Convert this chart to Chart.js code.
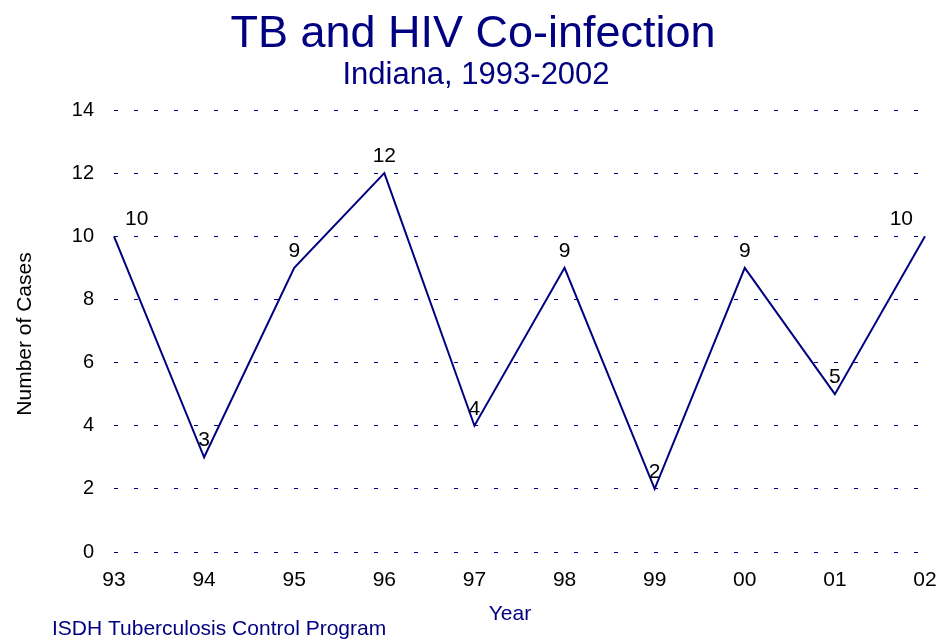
<!DOCTYPE html>
<html>
<head>
<meta charset="utf-8">
<script src="https://cdn.jsdelivr.net/npm/chart.js@4"></script>
<style>
  html,body{margin:0;padding:0;background:#fff;}
  #wrap{width:938px;height:639px;position:relative;}
</style>
</head>
<body>
<div id="wrap"><canvas id="coChart" width="938" height="639"></canvas></div>
<script>
const years = ['93','94','95','96','97','98','99','00','01','02'];
const cases = [10, 3, 9, 12, 4, 9, 2, 9, 5, 10];
const yMin = 0, yMax = 14, yStep = 2;

const titleText = 'TB and HIV Co-infection';
const subtitleText = 'Indiana, 1993-2002';
const xTitle = 'Year';
const yTitle = 'Number of Cases';
const footerText = 'ISDH Tuberculosis Control Program';

const NAVY = '#000080';
const FONT = '"Liberation Sans", Arial, sans-serif';

// titles, axis titles, footer and point values
const textPlugin = {
  id:'texts',
  afterDraw(chart){
    const c = chart.ctx;
    c.save();
    c.textBaseline = 'alphabetic';
    c.fillStyle = NAVY;
    c.textAlign = 'center';
    c.font = `45px ${FONT}`;
    c.fillText(titleText, 473, 47);
    c.font = `31px ${FONT}`;
    c.fillText(subtitleText, 476, 84);
    c.font = `21px ${FONT}`;
    c.fillText(xTitle, 510, 620);
    c.textAlign = 'left';
    c.fillText(footerText, 52, 635);

    c.fillStyle = '#000';
    c.save();
    c.translate(31, 334);
    c.rotate(-Math.PI/2);
    c.textAlign = 'center';
    c.fillText(yTitle, 0, 0);
    c.restore();

    const pts = chart.getDatasetMeta(0).data;
    c.font = `21px ${FONT}`;
    pts.forEach((p,i)=>{
      let x = p.x, align = 'center';
      if (i === 0) { x = p.x + 11; align = 'left'; }
      else if (i === pts.length-1) { x = p.x - 12; align = 'right'; }
      c.textAlign = align;
      c.fillText(String(cases[i]), x, p.y - 11);
    });
    c.restore();
  }
};

new Chart(document.getElementById('coChart'), {
  type:'line',
  data:{ labels: years, datasets:[{ data: cases, borderColor: NAVY, borderWidth:2, pointRadius:0, tension:0, fill:false }] },
  options:{
    responsive:false, animation:false,
    layout:{ padding:{ top:110, right:13, bottom:0, left:0 } },
    plugins:{ legend:{ display:false }, tooltip:{ enabled:false } },
    scales:{
      x:{
        offset:false,
        grid:{ display:false },
        border:{ display:false },
        ticks:{ color:'#000', font:{ family:FONT, size:21 }, padding:8, maxRotation:0, autoSkip:false },
        afterFit(s){ s.height = 87; s.paddingLeft = 0; s.paddingRight = 0; }
      },
      y:{
        min:yMin, max:yMax,
        grid:{ color:NAVY, lineWidth:1, drawTicks:false },
        border:{ display:false, dash:[4,16] },
        ticks:{ stepSize:yStep, color:'#000', font:{ family:FONT, size:20 }, padding:20 },
        afterFit(s){ s.width = 114; s.paddingTop = 0; s.paddingBottom = 0; }
      }
    }
  },
  plugins:[textPlugin]
});
</script>
</body>
</html>
